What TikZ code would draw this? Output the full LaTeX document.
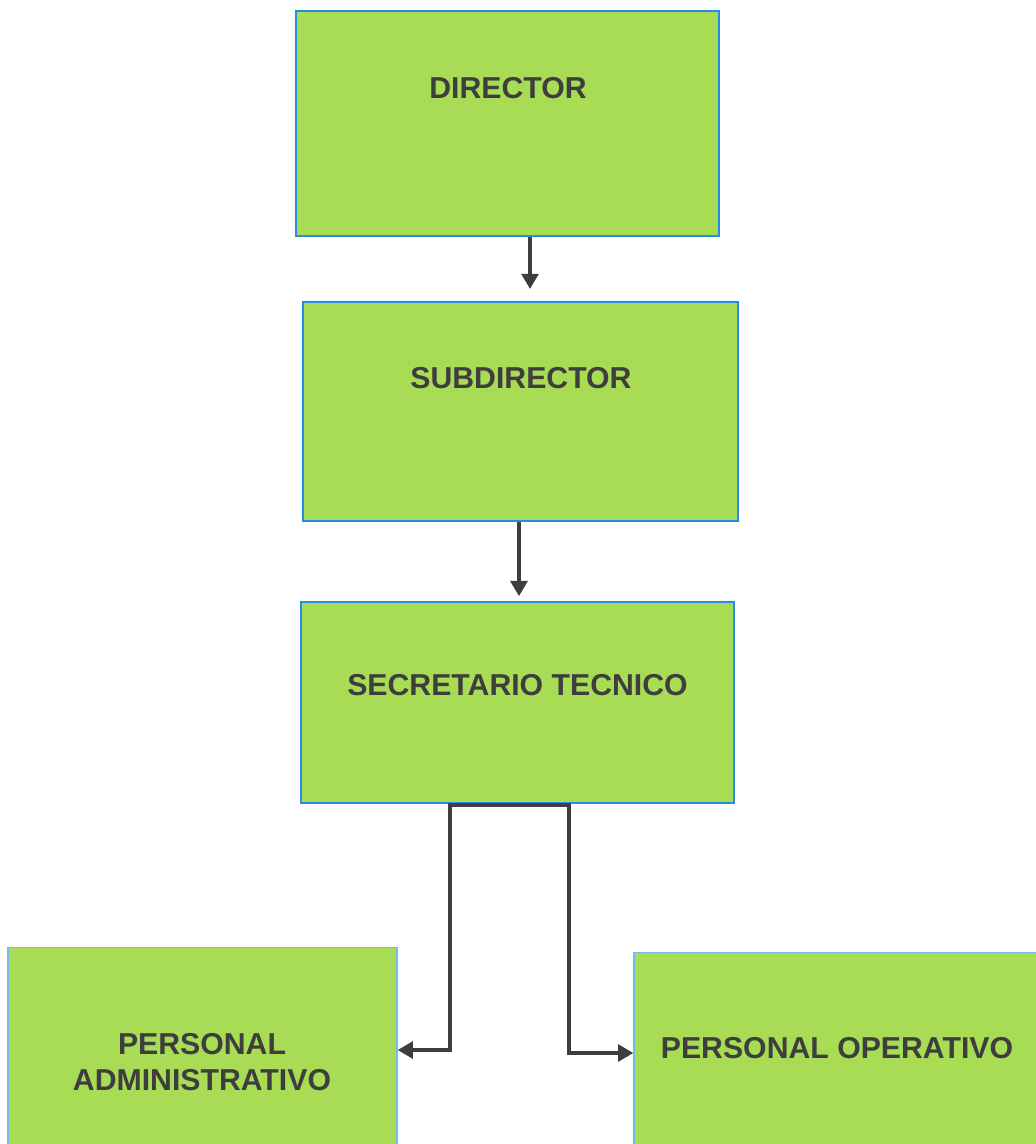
\documentclass[tikz,border=0pt]{standalone}
\usepackage{fontspec}
\setmainfont{Liberation Sans}
\usetikzlibrary{arrows.meta}
\definecolor{boxgreen}{RGB}{168,220,84}
\definecolor{boxblue}{RGB}{38,140,228}
\definecolor{paleblue}{RGB}{110,190,235}
\definecolor{inkgray}{RGB}{62,62,62}

\begin{document}
\begin{tikzpicture}[x=0.025cm,y=-0.025cm]
    \tikzstyle{every node}+=[inner sep=0pt]
    \tikzstyle{box}=[draw=boxblue, fill=boxgreen, line width=1.4pt, rectangle]
    \tikzstyle{lowbox}=[draw=paleblue, fill=boxgreen, line width=0.9pt, rectangle]
    \tikzstyle{lbl}=[text=inkgray, font=\fontsize{21.5}{25.5}\selectfont\bfseries, align=center]
    \tikzstyle{conn}=[draw=inkgray, line width=2.5pt, -{Triangle[width=0.42cm,length=0.38cm]}]
    \clip (0,0) rectangle (1036,1144);
    % boxes
    \node [box, minimum width=10.575cm, minimum height=5.625cm] (dir) at (507.5,123.5) {};
    \node [box, minimum width=10.875cm, minimum height=5.475cm] (sub) at (520.5,411.5) {};
    \node [box, minimum width=10.825cm, minimum height=5.025cm] (sec) at (517.5,702.5) {};
    \node [lowbox, minimum width=9.725cm, minimum height=5.5cm] (adm) at (202.5,1057.5) {};
    \node [lowbox, minimum width=10.2cm, minimum height=5.5cm] (ope) at (838,1062.5) {};
    % texts
    \node [lbl] (dirtxt) at (508,88) {DIRECTOR};
    \node [lbl] (subtxt) at (521,378) {SUBDIRECTOR};
    \node [lbl] (sectxt) at (517.5,685) {SECRETARIO TECNICO};
    \node [lbl] (admtxt) at (202,1062) {PERSONAL\\ADMINISTRATIVO};
    \node [lbl] (opetxt) at (837,1048) {PERSONAL OPERATIVO};
    % connectors
    \coordinate (sl) at (450,805);
    \coordinate (sr) at (569,805);
    \draw [conn, shorten >=0.3cm] (dir.south -| 530,0) -- (sub.north -| 530,0);
    \draw [conn, shorten >=0.12cm] (sub.south -| 519,0) -- (sec.north -| 519,0);
    \draw [draw=inkgray, line width=2.5pt, line cap=rect] (sl) -- (sr);
    \draw [conn] (sl) -- (450,1050) -- (adm.east |- 0,1050);
    \draw [conn] (sr) -- (569,1053) -- (ope.west |- 0,1053);
\end{tikzpicture}
\end{document}
